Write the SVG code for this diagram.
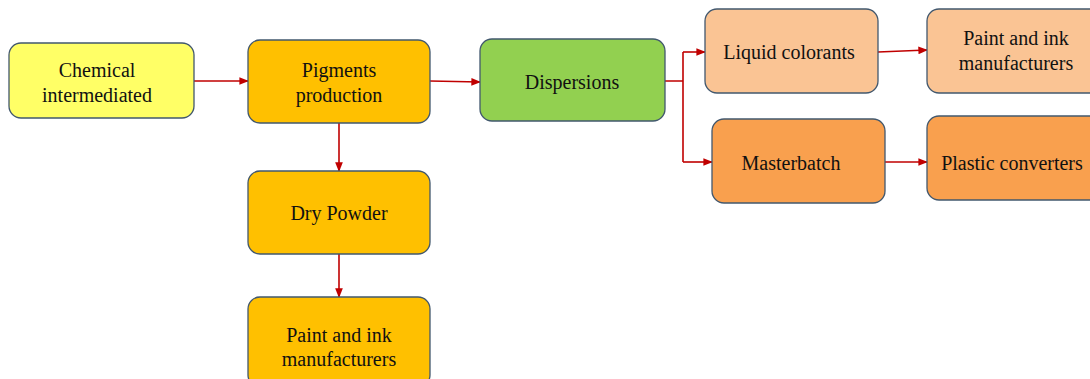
<svg xmlns="http://www.w3.org/2000/svg" width="1090" height="379" viewBox="0 0 1090 379">
<style>
.n{stroke:#42586E;stroke-width:1.3}
.t{font-family:"Liberation Serif","Times New Roman",serif;font-size:20px;fill:#111;text-anchor:middle}
.c{fill:none;stroke:#C00000;stroke-width:1.6}
</style>
<defs>
<marker id="ah" viewBox="0 0 10 10" refX="9" refY="5" markerWidth="6" markerHeight="6" orient="auto">
<path d="M0,1 L10,5 L0,9 z" fill="#C00000"/>
</marker>
</defs>
<rect width="1090" height="379" fill="#fff"/>
<g id="connectors">
<path class="c" d="M194,81 L248,81" marker-end="url(#ah)"/>
<path class="c" d="M430,81 L480,82" marker-end="url(#ah)"/>
<path class="c" d="M665,81 L683,81 M683,52 L683,162"/>
<path class="c" d="M683,52 L705,52" marker-end="url(#ah)"/>
<path class="c" d="M683,162 L712,162" marker-end="url(#ah)"/>
<path class="c" d="M878,52 L927,50" marker-end="url(#ah)"/>
<path class="c" d="M885,162 L927,162" marker-end="url(#ah)"/>
<path class="c" d="M339,123 L339,171" marker-end="url(#ah)"/>
<path class="c" d="M339,254 L339,297" marker-end="url(#ah)"/>
</g>
<g id="chemical">
<rect class="n" x="9" y="43" width="185" height="75" rx="12" fill="#FFFF66"/>
<text class="t" x="97" y="77">Chemical</text>
<text class="t" x="97" y="102">intermediated</text>
</g>
<g id="pigments">
<rect class="n" x="248" y="40" width="182" height="83" rx="12" fill="#FFC000"/>
<text class="t" x="339" y="77">Pigments</text>
<text class="t" x="339" y="102">production</text>
</g>
<g id="dispersions">
<rect class="n" x="480" y="39" width="185" height="82" rx="12" fill="#92D050"/>
<text class="t" x="572" y="89">Dispersions</text>
</g>
<g id="liquid">
<rect class="n" x="705" y="9" width="173" height="84" rx="12" fill="#FAC494"/>
<text class="t" x="789" y="59">Liquid colorants</text>
</g>
<g id="paint-top">
<rect class="n" x="927" y="9" width="175" height="84" rx="12" fill="#FAC494"/>
<text class="t" x="1016" y="45">Paint and ink</text>
<text class="t" x="1016" y="70">manufacturers</text>
</g>
<g id="masterbatch">
<rect class="n" x="712" y="119" width="173" height="84" rx="12" fill="#F9A04E"/>
<text class="t" x="791" y="170">Masterbatch</text>
</g>
<g id="plastic">
<rect class="n" x="927" y="116" width="175" height="84" rx="12" fill="#F9A04E"/>
<text class="t" x="1012" y="170">Plastic converters</text>
</g>
<g id="dry">
<rect class="n" x="248" y="171" width="182" height="83" rx="12" fill="#FFC000"/>
<text class="t" x="339" y="220">Dry Powder</text>
</g>
<g id="paint-bottom">
<rect class="n" x="248" y="297" width="182" height="90" rx="12" fill="#FFC000"/>
<text class="t" x="339" y="342">Paint and ink</text>
<text class="t" x="339" y="366">manufacturers</text>
</g>
</svg>
